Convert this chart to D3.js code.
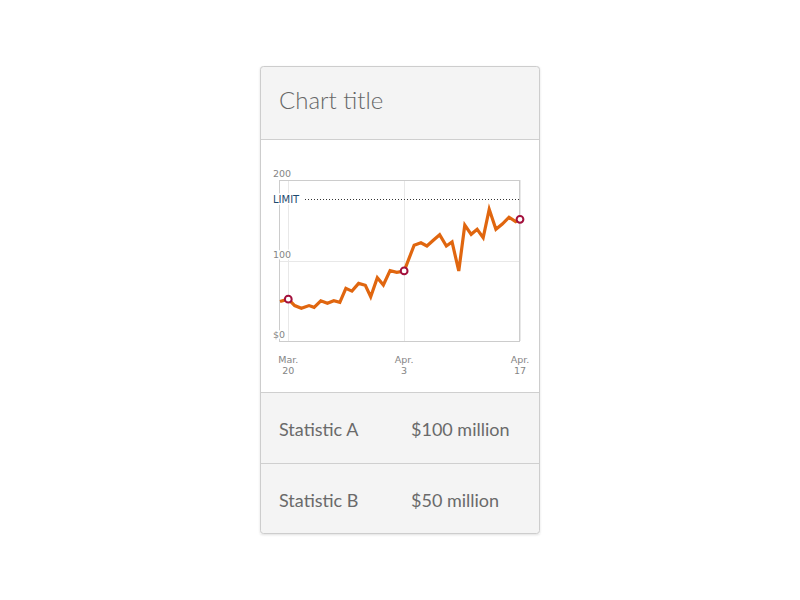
<!DOCTYPE html>
<html>
<head>
<meta charset="utf-8">
<script src="https://cdn.jsdelivr.net/npm/d3@7"></script>
<style>
  html, body { margin: 0; padding: 0; background: #fff; }
  svg { display: block; }
</style>
</head>
<body>
<svg id="chart" width="800" height="600"></svg>
<script>
// == Daten ==
// Tage seit 19. März
const dayOffsets = [0, 1, 1.77, 2.58, 3.51, 4.12, 4.93, 5.73, 6.5, 7.23, 7.96, 8.69, 9.5, 10.31,
    10.96, 11.76, 12.49, 13.3, 14.11, 15, 16.21, 17.03, 17.75, 18.56, 19.29, 20.1, 20.79, 21.6,
    22.33, 23.1, 23.82, 24.55, 25.28, 26.09, 26.86, 27.67, 28.48, 29];
const values = [49, 52, 44, 40.6, 44, 41.8, 50, 46.8, 50, 48, 65.4, 62, 71.6, 69.2,
    55, 78.7, 69.6, 87.4, 85.3, 87, 119, 122, 118, 125.5, 132, 118, 123, 87,
    144, 132.5, 138.8, 128.3, 163.6, 138.8, 145.3, 153.7, 148.2, 151.2];
// Markierte Punkte (Index in values)
const highlighted = [1, 19, 37];
const yTicks = [0, 100, 200];
const yTickLabels = ['$0', '100', '200'];
const xTickDays = [1, 15, 29];
const xTickLabels = [['Mar.', '20'], ['Apr.', '3'], ['Apr.', '17']];
const limitValue = 176;
const chartTitle = 'Chart title';
const statNames = ['Statistic A', 'Statistic B'];
const statValues = ['$100 million', '$50 million'];

const START_DATE = new Date(2020, 2, 19);
const toDate = d => d3.timeMinute.offset(START_DATE, Math.round(d * 24 * 60));

const data = values.map((v, i) => ({date: toDate(dayOffsets[i]), value: v}));

const svg = d3.select('#chart');
const UI_FONT = 'Lato, "Open Sans", sans-serif';
const AXIS_FONT = '"DejaVu Sans", Verdana, sans-serif';

// == Karte ==
const card = {x: 260, y: 66, w: 280, h: 468};
const headerBottom = 139;
const chartBottom = 392;
const rowHeight = 71;

const defs = svg.append('defs');
const shadow = defs.append('filter').attr('id', 'shadow')
    .attr('x', '-5%').attr('y', '-5%').attr('width', '110%').attr('height', '110%');
shadow.append('feDropShadow').attr('dx', 0).attr('dy', 1).attr('stdDeviation', 1)
    .attr('flood-color', '#000').attr('flood-opacity', 0.12);
defs.append('clipPath').attr('id', 'cardClip')
    .append('rect')
    .attr('x', card.x).attr('y', card.y).attr('width', card.w).attr('height', card.h)
    .attr('rx', 3);

svg.append('rect')
    .attr('x', card.x).attr('y', card.y).attr('width', card.w).attr('height', card.h)
    .attr('rx', 3).attr('fill', '#f4f4f4').attr('filter', 'url(#shadow)');

const inner = svg.append('g').attr('clip-path', 'url(#cardClip)');
inner.append('rect')
    .attr('x', card.x).attr('y', headerBottom).attr('width', card.w).attr('height', chartBottom - headerBottom)
    .attr('fill', '#fff');
// Trennlinien
[headerBottom, chartBottom, chartBottom + rowHeight].forEach(y => {
    inner.append('line')
        .attr('x1', card.x).attr('x2', card.x + card.w)
        .attr('y1', y + 0.5).attr('y2', y + 0.5)
        .attr('stroke', '#cfcfcf');
});
svg.append('rect')
    .attr('x', card.x + 0.5).attr('y', card.y + 0.5).attr('width', card.w - 1).attr('height', card.h - 1)
    .attr('rx', 3).attr('fill', 'none').attr('stroke', '#cdcdcd');

// Titel
svg.append('text')
    .attr('x', 279).attr('y', 109)
    .attr('font-family', UI_FONT).attr('font-size', 24).attr('font-weight', 300).attr('fill', '#666')
    .text(chartTitle);

// Statistiken
statNames.forEach((name, i) => {
    const baseline = chartBottom + rowHeight * i + 43.5;
    svg.append('text')
        .attr('x', 279).attr('y', baseline)
        .attr('font-family', UI_FONT).attr('font-size', 18).attr('fill', '#6a6a6a')
        .text(name);
    svg.append('text')
        .attr('x', 411).attr('y', baseline)
        .attr('font-family', UI_FONT).attr('font-size', 18).attr('fill', '#6a6a6a')
        .text(statValues[i]);
});

// == Diagramm ==
const plot = {left: 280, right: 520, top: 180, bottom: 341};
const x = d3.scaleTime()
    .domain([START_DATE, toDate(29)])
    .range([plot.left, plot.right]);
const y = d3.scaleLinear()
    .domain([0, 200])
    .range([plot.bottom, plot.top]);

const g = svg.append('g');

// Gitterlinien
g.selectAll('.xgrid')
    .data(xTickDays)
    .enter().append('line')
    .attr('x1', d => Math.round(x(toDate(d))) + 0.5)
    .attr('x2', d => Math.round(x(toDate(d))) + 0.5)
    .attr('y1', plot.top).attr('y2', plot.bottom)
    .attr('stroke', '#e8e8e8');
g.selectAll('.ygrid')
    .data(yTicks)
    .enter().append('line')
    .attr('x1', plot.left).attr('x2', plot.right)
    .attr('y1', d => Math.round(y(d)) + 0.5)
    .attr('y2', d => Math.round(y(d)) + 0.5)
    .attr('stroke', '#e8e8e8');

// Rahmen
g.append('rect')
    .attr('x', plot.left - 0.5).attr('y', plot.top + 0.5)
    .attr('width', plot.right - plot.left).attr('height', plot.bottom - plot.top)
    .attr('fill', 'none').attr('stroke', '#cccccc');

// Y-Beschriftung (mit weißem Hintergrund über dem Rahmen)
g.selectAll('.ylabel')
    .data(yTicks)
    .enter().append('text')
    .attr('x', 273)
    .attr('y', d => y(d) - 3)
    .attr('font-family', AXIS_FONT).attr('font-size', 9.5).attr('fill', '#858585')
    .attr('stroke', '#fff').attr('stroke-width', 3).attr('paint-order', 'stroke')
    .text((d, i) => yTickLabels[i]);

// X-Beschriftung
const xLabels = g.selectAll('.xlabel')
    .data(xTickDays)
    .enter().append('text')
    .attr('text-anchor', 'middle')
    .attr('font-family', AXIS_FONT).attr('font-size', 9.5).attr('fill', '#858585');
xLabels.append('tspan')
    .attr('x', d => x(toDate(d))).attr('y', 363)
    .text((d, i) => xTickLabels[i][0]);
xLabels.append('tspan')
    .attr('x', d => x(toDate(d))).attr('y', 373.5)
    .text((d, i) => xTickLabels[i][1]);

// Limit
g.append('line')
    .attr('x1', 305).attr('x2', plot.right)
    .attr('y1', Math.round(y(limitValue)) + 0.5).attr('y2', Math.round(y(limitValue)) + 0.5)
    .attr('stroke', '#333').attr('stroke-dasharray', '1,2');
g.append('text')
    .attr('x', 273).attr('y', y(limitValue) + 3.5)
    .attr('font-family', AXIS_FONT).attr('font-size', 10).attr('fill', '#1d4a6e')
    .attr('stroke', '#fff').attr('stroke-width', 3).attr('paint-order', 'stroke')
    .text('LIMIT');

// Linie
const line = d3.line()
    .x(d => x(d.date))
    .y(d => y(d.value));
g.append('path')
    .datum(data)
    .attr('d', line)
    .attr('fill', 'none')
    .attr('stroke', '#e0660f')
    .attr('stroke-width', 3.2)
    .attr('stroke-linejoin', 'miter');

// Markierte Punkte
g.selectAll('.dot')
    .data(highlighted.map(i => data[i]))
    .enter().append('circle')
    .attr('cx', d => x(d.date))
    .attr('cy', d => y(d.value))
    .attr('r', 3.4)
    .attr('fill', '#fff')
    .attr('stroke', '#a3103c')
    .attr('stroke-width', 2);
</script>
</body>
</html>
